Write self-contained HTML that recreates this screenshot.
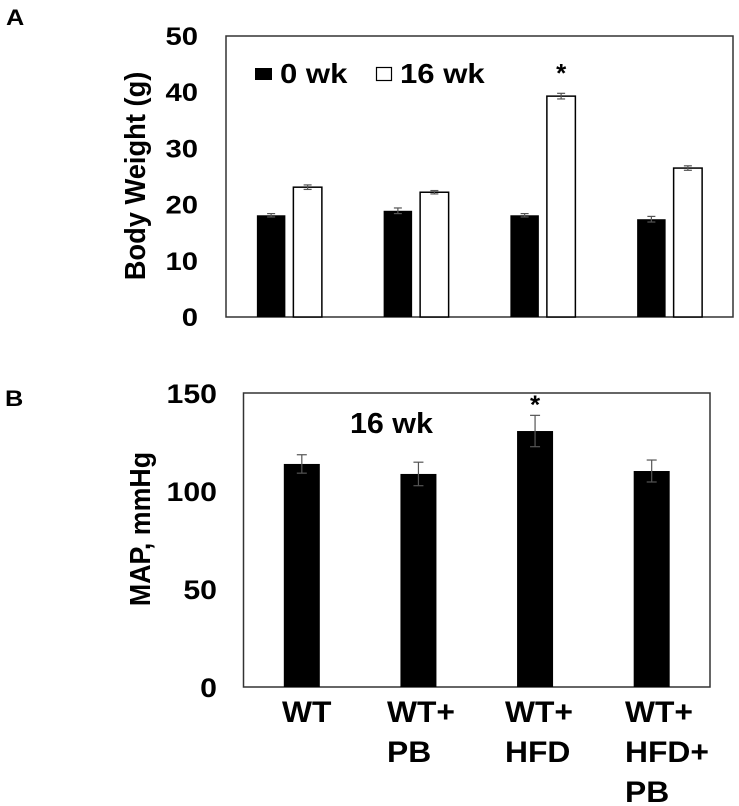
<!DOCTYPE html>
<html><head><meta charset="utf-8"><style>
html,body{margin:0;padding:0;background:#fff;}
svg{display:block;font-family:"Liberation Sans",Arial,sans-serif;font-weight:bold;}
</style></head><body>
<svg id="fig" width="739" height="806" viewBox="0 0 739 806" xmlns="http://www.w3.org/2000/svg">
<text x="6" y="25" font-size="22" transform="translate(6,0) scale(1.15,1) translate(-6,0)">A</text>
<text x="5" y="406" font-size="22" transform="translate(5,0) scale(1.15,1) translate(-5,0)">B</text>
<g id="pa"></g>
<g id="pb"></g>
</svg>
<script>
const groupsA = ["WT","WT+PB","WT+HFD","WT+HFD+PB"];
const wk0 = [18.1, 18.9, 18.1, 17.4];
const wk0Err = [0.3, 0.5, 0.3, 0.5];
const wk16 = [23.1, 22.2, 39.3, 26.5];
const wk16Err = [0.4, 0.3, 0.5, 0.4];
const ticksA = [0,10,20,30,40,50];
const groupsB = ["WT","WT+PB","WT+HFD","WT+HFD+PB"];
const mapVals = [113.8, 108.7, 130.6, 110.2];
const mapErr = [4.7, 6.0, 8.0, 5.6];
const ticksB = [0,50,100,150];
const labelLinesB = [["WT"],["WT+","PB"],["WT+","HFD"],["WT+","HFD+","PB"]];

const NS="http://www.w3.org/2000/svg";
function mk(tag, attrs, parent, txt){const e=document.createElementNS(NS,tag);for(const k in attrs)e.setAttribute(k,attrs[k]);if(txt!==undefined)e.textContent=txt;parent.appendChild(e);return e;}
function sx(x,f){return 'translate('+x+',0) scale('+f+',1) translate('+(-x)+',0)';}

// Panel A
const pa=document.getElementById('pa');
const A={x0:226,x1:733,y0:36,y1:317,max:50};
const yA=v=>A.y1-(v/A.max)*(A.y1-A.y0);
const gwA=(A.x1-A.x0)/groupsA.length;
let r=mk('rect',{x:A.x0,y:A.y0,width:A.x1-A.x0,height:A.y1-A.y0,fill:'none',stroke:'#333','stroke-width':1.5},pa);


ticksA.forEach(t=>{const e=mk('text',{x:198,y:yA(t)+9,'font-size':25,'text-anchor':'end',transform:sx(198,1.17)},pa,String(t));

});
let tt=mk('text',{transform:'translate(145,176) rotate(-90) scale(1.05,1.1)','font-size':26,'text-anchor':'middle'},pa,'Body Weight (g)');


function errBar(p,cx,top,e,ysc,cap,name){const a=ysc(top+e),b=ysc(top-e);
const g=mk('g',{stroke:'#555','stroke-width':1.2},p);


mk('line',{x1:cx,x2:cx,y1:a,y2:b},g);mk('line',{x1:cx-cap,x2:cx+cap,y1:a,y2:a},g);mk('line',{x1:cx-cap,x2:cx+cap,y1:b,y2:b},g);}
const bwA=28.5, gapA=8;
groupsA.forEach((g,i)=>{const c=A.x0+gwA*(i+0.5);
const xb=c-gapA/2-bwA, xw=c+gapA/2;
let b=mk('rect',{x:xb,y:yA(wk0[i]),width:bwA,height:A.y1-yA(wk0[i]),fill:'#000'},pa);


errBar(pa,xb+bwA/2,wk0[i],wk0Err[i],yA,4,'error-bar-0wk');
let w=mk('rect',{x:xw,y:yA(wk16[i]),width:bwA,height:A.y1-yA(wk16[i]),fill:'#fff',stroke:'#000','stroke-width':1.5},pa);


errBar(pa,xw+bwA/2,wk16[i],wk16Err[i],yA,4,'error-bar-16wk');
if(i===2){const s=mk('text',{x:xw+bwA/2,y:yA(wk16[i])-14,'font-size':26,'text-anchor':'middle'},pa,'*');

}
});
let l1=mk('rect',{x:255,y:68,width:17,height:12,fill:'#000'},pa);


let lt1=mk('text',{x:280,y:83,'font-size':28,transform:sx(280,1.11)},pa,'0 wk');


let l2=mk('rect',{x:376.5,y:67.5,width:15,height:13,fill:'#fff',stroke:'#000','stroke-width':1.2},pa);


let lt2=mk('text',{x:400,y:83,'font-size':28,transform:sx(400,1.11)},pa,'16 wk');



// Panel B
const pb=document.getElementById('pb');
const B={x0:243.5,x1:710,y0:393,y1:687,max:150};
const yB=v=>B.y1-(v/B.max)*(B.y1-B.y0);
const gwB=(B.x1-B.x0)/groupsB.length;
r=mk('rect',{x:B.x0,y:B.y0,width:B.x1-B.x0,height:B.y1-B.y0,fill:'none',stroke:'#333','stroke-width':1.5},pb);


ticksB.forEach(t=>{const e=mk('text',{x:217,y:yB(t)+10,'font-size':27,'text-anchor':'end',transform:sx(217,1.12)},pb,String(t));

});
tt=mk('text',{transform:'translate(150,529) rotate(-90) scale(1.03,1.1)','font-size':26,'text-anchor':'middle'},pb,'MAP, mmHg');


const bwB=36;
const labelX=[282,387,505,625];
groupsB.forEach((g,i)=>{const c=B.x0+gwB*(i+0.5);
let b=mk('rect',{x:c-bwB/2,y:yB(mapVals[i]),width:bwB,height:B.y1-yB(mapVals[i]),fill:'#000'},pb);


errBar(pb,c,mapVals[i],mapErr[i],yB,5,'error-bar-map');
if(i===2){const s=mk('text',{x:c,y:yB(mapVals[i]+mapErr[i])-2,'font-size':26,'text-anchor':'middle'},pb,'*');

}
const tx=mk('text',{'font-size':30,transform:sx(labelX[i],1.06)},pb);


labelLinesB[i].forEach((ln,j)=>{mk('tspan',{x:labelX[i],y:722+40*j},tx,ln);});
});
let st=mk('text',{x:350,y:433,'font-size':29,transform:sx(350,1.05)},pb,'16 wk');


</script>
</body></html>
